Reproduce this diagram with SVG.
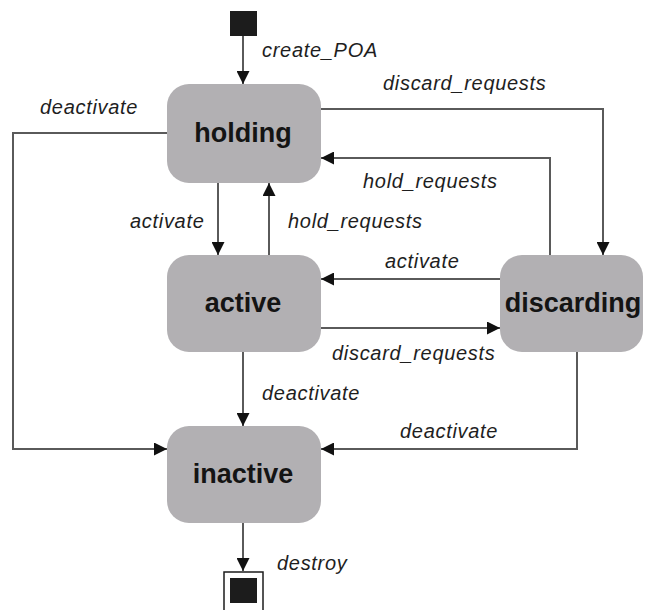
<svg xmlns="http://www.w3.org/2000/svg" width="645" height="610" viewBox="0 0 645 610">
  <style>
    .state { fill: #b2b0b3; }
    .state-label { font-family: "Liberation Sans", Arial, sans-serif; font-weight: bold; font-size: 27px; fill: #141414; text-anchor: middle; }
    .edge { fill: none; stroke: #5a5a5a; stroke-width: 2; }
    .edge-label { font-family: "Liberation Sans", Arial, sans-serif; font-style: italic; font-size: 20px; letter-spacing: 0.7px; fill: #1e1e1e; }
    .pseudo { fill: #1c1c1c; }
  </style>
  <defs>
    <marker id="arrow" viewBox="0 0 13 13" refX="13" refY="6.5" markerWidth="13" markerHeight="13" markerUnits="userSpaceOnUse" orient="auto">
      <path d="M0,0 L13,6.5 L0,13 Z" fill="#111"/>
    </marker>
  </defs>
  <rect width="645" height="610" fill="#ffffff"/>

  <!-- transitions -->
  <g id="connectors">
    <path class="edge" d="M243,36 V84" marker-end="url(#arrow)"/>
    <path class="edge" d="M321,109 H603 V255" marker-end="url(#arrow)"/>
    <path class="edge" d="M550,255 V158 H321" marker-end="url(#arrow)"/>
    <path class="edge" d="M167,133 H13 V449 H167" marker-end="url(#arrow)"/>
    <path class="edge" d="M218,183 V255" marker-end="url(#arrow)"/>
    <path class="edge" d="M269,255 V183" marker-end="url(#arrow)"/>
    <path class="edge" d="M500,279 H321" marker-end="url(#arrow)"/>
    <path class="edge" d="M321,328 H500" marker-end="url(#arrow)"/>
    <path class="edge" d="M243,352 V426" marker-end="url(#arrow)"/>
    <path class="edge" d="M577,352 V449 H321" marker-end="url(#arrow)"/>
    <path class="edge" d="M243,523 V571" marker-end="url(#arrow)"/>

    <text class="edge-label" x="262" y="57">create_POA</text>
    <text class="edge-label" x="383" y="90">discard_requests</text>
    <text class="edge-label" x="40" y="114">deactivate</text>
    <text class="edge-label" x="363" y="188">hold_requests</text>
    <text class="edge-label" x="130" y="228">activate</text>
    <text class="edge-label" x="288" y="228">hold_requests</text>
    <text class="edge-label" x="385" y="268">activate</text>
    <text class="edge-label" x="332" y="360">discard_requests</text>
    <text class="edge-label" x="262" y="400">deactivate</text>
    <text class="edge-label" x="400" y="438">deactivate</text>
    <text class="edge-label" x="277" y="570">destroy</text>
  </g>

  <g id="initial">
    <rect class="pseudo" x="230" y="11" width="27" height="25"/>
  </g>

  <g id="holding">
    <rect class="state" x="167" y="84" width="154" height="99" rx="22"/>
    <text class="state-label" x="243" y="142">holding</text>
  </g>

  <g id="active">
    <rect class="state" x="167" y="255" width="154" height="97" rx="22"/>
    <text class="state-label" x="243" y="312">active</text>
  </g>

  <g id="discarding">
    <rect class="state" x="500" y="255" width="143" height="97" rx="22"/>
    <text class="state-label" x="573" y="312">discarding</text>
  </g>

  <g id="inactive">
    <rect class="state" x="167" y="426" width="154" height="97" rx="22"/>
    <text class="state-label" x="243" y="483">inactive</text>
  </g>

  <g id="final">
    <rect x="224" y="572" width="39" height="40" fill="#ffffff" stroke="#1c1c1c" stroke-width="1.5"/>
    <rect class="pseudo" x="230" y="578" width="27" height="25"/>
  </g>
</svg>
